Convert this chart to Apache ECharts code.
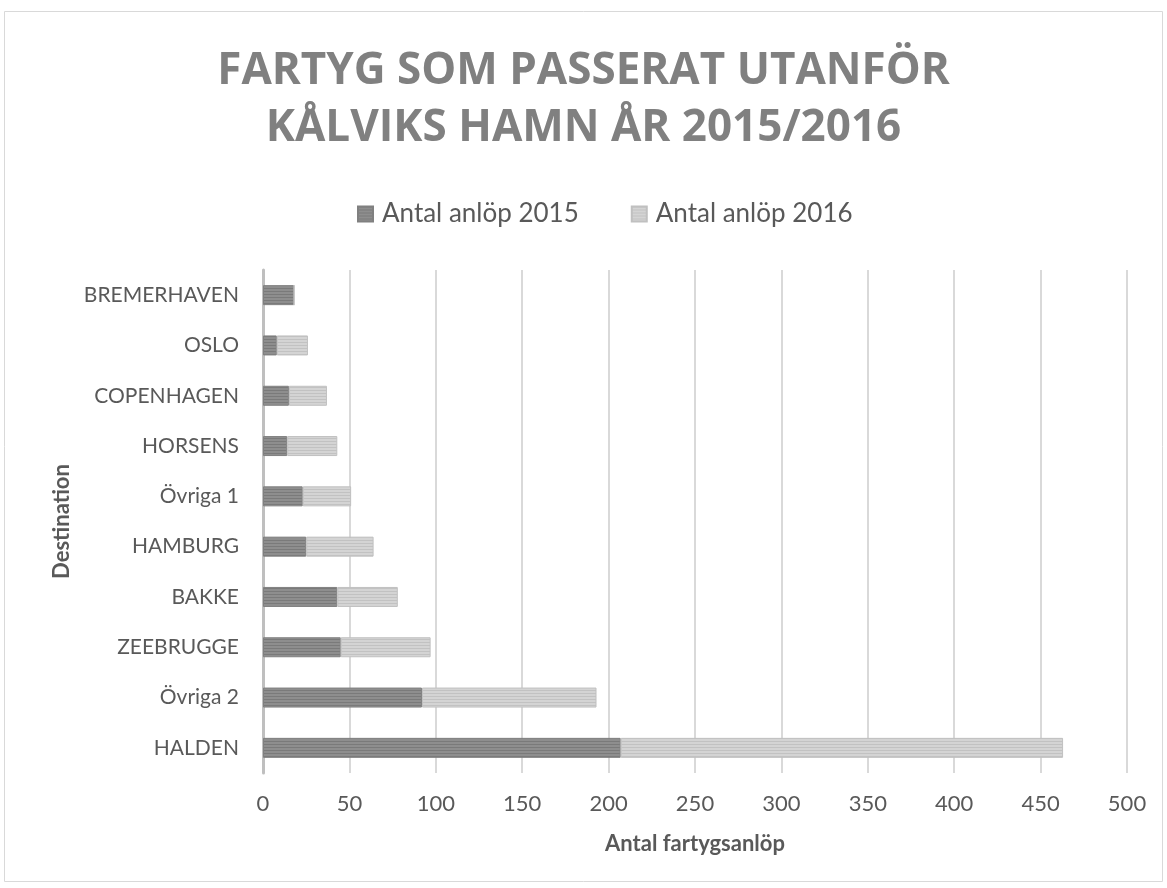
<!DOCTYPE html>
<html>
<head>
<meta charset="utf-8">
<script src="https://cdn.jsdelivr.net/npm/echarts@6/dist/echarts.min.js"></script>
<style>
  html, body { margin: 0; padding: 0; background: #fff; }
  #chart { width: 1167px; height: 888px; }
</style>
</head>
<body>
<div id="chart"></div>
<script>
// destinations, top to bottom
var destinations = ['BREMERHAVEN', 'OSLO', 'COPENHAGEN', 'HORSENS', 'Övriga 1', 'HAMBURG', 'BAKKE', 'ZEEBRUGGE', 'Övriga 2', 'HALDEN'];
var anlop2015 = [18, 8, 15, 14, 23, 25, 43, 45, 92, 207];
var anlop2016 = [0, 18, 22, 29, 28, 39, 35, 52, 101, 256];
var xTicks = [0, 50, 100, 150, 200, 250, 300, 350, 400, 450, 500];

// horisontella ränder i staplarna
function stripes(base, line) {
  var c = document.createElement('canvas');
  c.width = 4; c.height = 3;
  var ctx = c.getContext('2d');
  ctx.fillStyle = base;
  ctx.fillRect(0, 0, 4, 3);
  ctx.fillStyle = line;
  ctx.fillRect(0, 0, 4, 1);
  return c;
}

var chart = echarts.init(document.getElementById('chart'));
var font = 'Lato, "Open Sans", sans-serif';

var option = {
  backgroundColor: '#fff',
  animation: false,
  graphic: [{
    type: 'rect',
    shape: { x: 4.5, y: 11.5, width: 1158, height: 870 },
    style: { fill: 'none', stroke: '#d9d9d9', lineWidth: 1 }
  }],
  title: {
    text: 'FARTYG SOM PASSERAT UTANFÖR\nKÅLVIKS HAMN ÅR 2015/2016',
    left: 'center',
    top: 38,
    textStyle: {
      fontFamily: '"Open Sans", sans-serif',
      fontWeight: 'bold',
      fontSize: 44,
      lineHeight: 57,
      color: '#808080'
    }
  },
  legend: {
    top: 196,
    left: 352,
    itemWidth: 15,
    itemHeight: 15,
    itemGap: 52,
    icon: 'rect',
    textStyle: { fontFamily: font, fontSize: 26, color: '#595959', padding: [0, 0, 0, 4] },
    data: ['Antal anlöp 2015', 'Antal anlöp 2016']
  },
  grid: { left: 263, right: 40, top: 270, bottom: 115, containLabel: false },
  xAxis: {
    type: 'value',
    min: 0,
    max: 500,
    interval: 50,
    name: 'Antal fartygsanlöp',
    nameLocation: 'middle',
    nameGap: 60,
    nameTextStyle: { fontFamily: font, fontWeight: 'bold', fontSize: 22, color: '#595959' },
    axisLine: { show: false },
    axisTick: { show: false },
    axisLabel: {
      margin: 20,
      fontFamily: font, fontSize: 22, color: '#595959',
      formatter: function (v) { return xTicks.indexOf(v) >= 0 ? String(v) : ''; }
    },
    splitLine: { show: true, lineStyle: { color: '#d9d9d9', width: 2 } }
  },
  yAxis: {
    type: 'category',
    inverse: true,
    data: destinations,
    name: 'Destination',
    nameLocation: 'middle',
    nameRotate: 90,
    nameGap: 190,
    nameTextStyle: { fontFamily: font, fontWeight: 'bold', fontSize: 22, color: '#595959' },
    axisLine: { show: true, lineStyle: { color: '#bfbfbf', width: 3 } },
    axisTick: { show: false },
    axisLabel: { margin: 24, fontFamily: font, fontSize: 21, color: '#595959' }
  },
  series: [
    {
      name: 'Antal anlöp 2015',
      type: 'bar',
      stack: 'tot',
      barWidth: 20,
      data: anlop2015,
      itemStyle: {
        color: { image: stripes('#8e8e8e', '#7a7a7a'), repeat: 'repeat' },
        borderColor: '#808080',
        borderWidth: 1
      }
    },
    {
      name: 'Antal anlöp 2016',
      type: 'bar',
      stack: 'tot',
      barWidth: 20,
      data: anlop2016,
      itemStyle: {
        color: { image: stripes('#d4d4d4', '#c2c2c2'), repeat: 'repeat' },
        borderColor: '#c0c0c0',
        borderWidth: 1
      }
    }
  ]
};

chart.setOption(option);
</script>
</body>
</html>
